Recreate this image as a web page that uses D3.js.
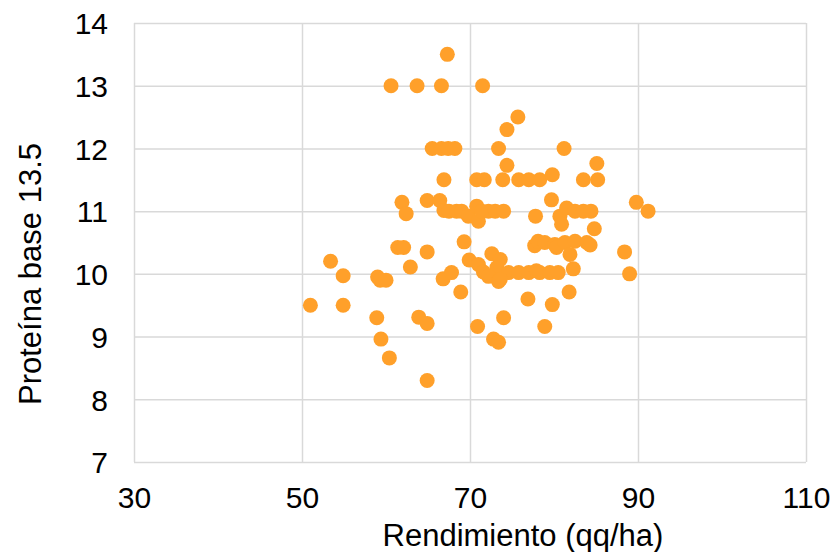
<!DOCTYPE html>
<html>
<head>
<meta charset="utf-8">
<script src="https://cdn.jsdelivr.net/npm/d3@7"></script>
<style>
  html, body { margin: 0; padding: 0; background: #fff; }
  svg { display: block; }
  text { font-family: "Liberation Sans", Arial, sans-serif; fill: #000; }
</style>
</head>
<body>
<svg id="chart" width="836" height="552"></svg>
<script>
// Rendimiento (qq/ha)
const rendimiento = [
  67.3,
  60.6, 63.7, 66.6, 71.5,
  75.7, 74.4,
  65.5, 66.6, 67.4, 68.2, 73.4, 81.2,
  74.4, 85.1,
  66.9, 70.8, 71.7, 73.9, 75.8, 77.0, 78.3, 79.8, 83.5, 85.2,
  61.9, 62.4, 64.9, 66.4, 66.9, 67.5, 68.4, 69.0, 69.8, 70.8, 71.0, 71.4, 72.2, 73.0, 74.0,
  77.8, 79.7, 80.7, 80.9, 81.5, 82.5, 83.5, 84.4, 84.8, 89.8, 91.2,
  61.4, 62.1, 64.9, 69.3, 77.7, 78.1, 78.9, 80.1, 80.3, 81.3, 82.5, 83.9, 84.3, 88.4, 81.9, 53.4,
  69.9, 72.6, 73.6, 71.0, 73.2, 62.9, 82.3,
  54.9, 59.0, 59.3, 60.0, 66.8, 67.8, 71.6, 72.2, 73.4, 74.6, 75.8, 77.0, 77.9, 78.3, 79.5, 80.5, 89.0, 73.6,
  51.0, 54.9, 68.9, 76.9, 79.8, 81.8,
  58.9, 63.9, 64.9, 74.0, 70.9, 78.9,
  59.4, 72.8, 73.4,
  60.4, 64.9
];
// Proteína base 13.5
const proteina = [
  13.5,
  13.0, 13.0, 13.0, 13.0,
  12.5, 12.3,
  12.0, 12.0, 12.0, 12.0, 12.0, 12.0,
  11.73, 11.76,
  11.5, 11.5, 11.5, 11.5, 11.5, 11.5, 11.5, 11.58, 11.5, 11.5,
  11.14, 10.96, 11.17, 11.17, 11.01, 11.0, 11.0, 11.0, 10.92, 11.08, 10.84, 11.0, 11.0, 11.0, 11.0,
  10.92, 11.18, 10.92, 10.79, 11.05, 11.0, 11.0, 11.0, 10.72, 11.14, 11.0,
  10.42, 10.42, 10.35, 10.51, 10.45, 10.52, 10.5, 10.47, 10.42, 10.5, 10.52, 10.5, 10.46, 10.35, 10.31, 10.2,
  10.22, 10.32, 10.23, 10.15, 10.1, 10.11, 10.08,
  9.97, 9.95, 9.9, 9.9, 9.92, 10.02, 10.03, 9.96, 9.88, 10.02, 10.02, 10.02, 10.05, 10.02, 10.02, 10.02, 10.0, 9.91,
  9.5, 9.5, 9.71, 9.6, 9.51, 9.71,
  9.3, 9.31, 9.21, 9.3, 9.16, 9.16,
  8.96, 8.96, 8.91,
  8.66, 8.3
];
const xTicks = [30, 50, 70, 90, 110];
const yTicks = [7, 8, 9, 10, 11, 12, 13, 14];
const xTitle = "Rendimiento (qq/ha)";
const yTitle = "Proteína base 13.5";

const points = rendimiento.map((x, i) => ({ x, y: proteina[i] }));

const svg = d3.select("#chart");
const pLeft = 134, pRight = 806, pTop = 23, pBottom = 462;
const x = d3.scaleLinear().domain([30, 110]).range([pLeft, pRight]);
const y = d3.scaleLinear().domain([7, 14]).range([pBottom, pTop]);
const gridColor = "#d9d9d9";

// gridlines
const gx = svg.append("g")
  .attr("transform", `translate(0,${pBottom})`)
  .call(d3.axisBottom(x).tickValues(xTicks).tickSize(-(pBottom - pTop)).tickFormat(""));
gx.select(".domain").remove();
gx.selectAll("line").attr("stroke", gridColor).attr("stroke-width", 1.5);

const gy = svg.append("g")
  .attr("transform", `translate(${pLeft},0)`)
  .call(d3.axisLeft(y).tickValues(yTicks).tickSize(-(pRight - pLeft)).tickFormat(""));
gy.select(".domain").remove();
gy.selectAll("line").attr("stroke", gridColor).attr("stroke-width", 1.5);

// tick labels
const xl = svg.append("g")
  .attr("transform", `translate(0,${pBottom})`)
  .call(d3.axisBottom(x).tickValues(xTicks).tickSize(0).tickPadding(0).tickFormat(d3.format("d")));
xl.select(".domain").remove();
xl.selectAll("text").attr("font-size", 30).attr("dy", null).attr("y", 46)
  .style("font-family", '"Liberation Sans", Arial, sans-serif').attr("fill", "#000");

const yl = svg.append("g")
  .attr("transform", `translate(${pLeft},0)`)
  .call(d3.axisLeft(y).tickValues(yTicks).tickSize(0).tickPadding(0).tickFormat(d3.format("d")));
yl.select(".domain").remove();
yl.selectAll("text").attr("font-size", 30).attr("x", -26).attr("dy", "0.36em")
  .style("font-family", '"Liberation Sans", Arial, sans-serif').attr("fill", "#000");

// points
svg.append("g").selectAll("circle")
  .data(points)
  .join("circle")
  .attr("cx", d => x(d.x))
  .attr("cy", d => y(d.y))
  .attr("r", 7.5)
  .attr("fill", "#FFA02A");

// titles
svg.append("text")
  .attr("x", 523).attr("y", 546)
  .attr("text-anchor", "middle")
  .attr("font-size", 31)
  .text(xTitle);

svg.append("text")
  .attr("transform", "translate(41,274) rotate(-90)")
  .attr("text-anchor", "middle")
  .attr("font-size", 31)
  .text(yTitle);
</script>
</body>
</html>
